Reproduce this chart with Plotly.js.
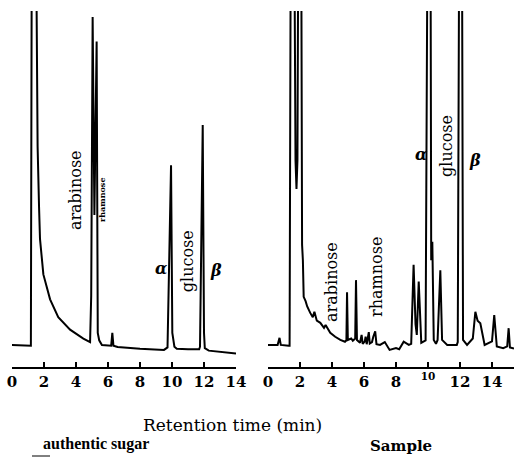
<!DOCTYPE html>
<html>
<head>
<meta charset="utf-8">
<script src="https://cdn.plot.ly/plotly-3.0.1.min.js"></script>
<style>html,body{margin:0;padding:0;background:#fff;}#chart{width:514px;height:457px;}</style>
</head>
<body>
<div id="chart"></div>
<script>
// Retention time (min) and detector response (arbitrary units, 0-100 = full scale)
var authenticTime = [0, 0.6, 1.15, 1.18, 1.3, 1.6, 1.69, 1.75, 1.96, 2.38, 2.89, 3.63, 4.46, 4.88, 4.95, 5.04, 5.15, 5.29, 5.36, 5.45, 5.62, 6.0, 6.2, 6.27, 6.34, 6.6, 8.0, 9.5, 9.72, 9.94, 10.02, 10.15, 10.3, 11.0, 11.7, 11.75, 11.92, 12.0, 12.05, 12.3, 13.0, 14.0];
var authenticSignal = [6.2, 6.1, 6.0, 6.0, 250, 62, 45, 36, 26, 19, 14, 10.5, 8, 7, 20, 98.3, 42.7, 91.4, 9.6, 7.5, 6.2, 6.0, 6.0, 9.6, 6.0, 5.6, 5.1, 4.8, 5.5, 56.7, 9.6, 5.7, 5.1, 5.0, 5.0, 5.7, 68.0, 9.6, 5.3, 4.6, 4.2, 3.8];

var sampleTime = [0, 0.6, 0.72, 0.8, 1.3, 1.35, 1.5, 1.72, 1.78, 1.84, 2.0, 2.13, 2.18, 2.23, 2.35, 2.45, 2.64, 2.8, 2.9, 3.05, 3.27, 3.5, 3.6, 3.89, 4.2, 4.52, 4.81, 4.9, 4.94, 4.99, 5.2, 5.3, 5.45, 5.5, 5.56, 5.75, 5.85, 5.92, 6.05, 6.1, 6.17, 6.3, 6.36, 6.5, 6.58, 6.7, 6.78, 7.0, 7.3, 7.6, 8.0, 8.2, 8.48, 8.8, 8.95, 9.1, 9.22, 9.3, 9.42, 9.58, 9.85, 10.1, 10.2, 10.27, 10.36, 10.5, 10.6, 10.77, 10.88, 11.2, 11.8, 11.86, 12.05, 12.19, 12.44, 12.8, 12.96, 13.1, 13.27, 13.54, 14.0, 14.14, 14.3, 14.7, 14.95, 15.04, 15.12, 15.375];
var sampleSignal = [6.2, 6.2, 8.2, 6.2, 6.0, 6.0, 250, 58, 50, 58, 250, 34.3, 30, 19.7, 18.5, 17, 15.2, 14, 15.5, 13, 12.4, 11, 11.8, 9.6, 8.5, 7.6, 7.1, 7.5, 21, 7.6, 8.0, 7.4, 8.0, 24.4, 7.6, 6.8, 9.0, 6.5, 7.2, 8.5, 6.4, 9.8, 6.6, 7.0, 8.5, 10.0, 6.4, 6.2, 7.0, 4.8, 5.3, 5.0, 7.1, 6.2, 6.5, 28.7, 12, 9, 24, 6.8, 7.5, 250, 30, 35.2, 7.6, 6.5, 7.6, 27.2, 7.6, 6.2, 6.2, 7.0, 250, 7.6, 6.2, 8.0, 15.5, 13, 12.3, 6.2, 7.2, 14.6, 5.8, 5.3, 5.8, 10.9, 5.5, 5.2];

var tickValues = [0, 2, 4, 6, 8, 10, 12, 14];
var leftTickText = ['0', '2', '4', '6', '8', '10', '12', '14'];
var rightTickText = ['0', '2', '4', '6', '8', '<sup>10</sup>', '12', '14'];

var serif = 'DejaVu Serif, Liberation Serif, serif';
var timesLike = 'Liberation Serif, DejaVu Serif, serif';

var traces = [
  {x: authenticTime, y: authenticSignal, xaxis: 'x', yaxis: 'y', type: 'scatter', mode: 'lines',
   line: {color: '#000', width: 2}, hoverinfo: 'skip'},
  {x: sampleTime, y: sampleSignal, xaxis: 'x2', yaxis: 'y2', type: 'scatter', mode: 'lines',
   line: {color: '#000', width: 2}, hoverinfo: 'skip'}
];

function xAxisCfg(domain, range, ticktext) {
  return {
    domain: domain, range: range, showgrid: false, zeroline: false,
    showline: true, linecolor: '#000', linewidth: 1.6,
    ticks: 'inside', ticklen: 5, tickwidth: 1.5, tickcolor: '#000',
    tickmode: 'array', tickvals: tickValues, ticktext: ticktext,
    tickfont: {family: serif, size: 15, color: '#000', weight: 'bold'},
    fixedrange: true
  };
}
function yAxisCfg(anchor) {
  return {range: [0, 100], visible: false, showgrid: false, zeroline: false, anchor: anchor, fixedrange: true};
}

function lbl(text, xref, yref, x, y, size, angle, extra) {
  var a = {text: text, xref: xref, yref: yref, x: x, y: y, showarrow: false,
    textangle: angle, xanchor: 'center', yanchor: 'middle',
    font: {family: serif, size: size, color: '#000'}};
  if (extra) { for (var k in extra) a.font[k] = extra[k]; }
  return a;
}

var annotations = [
  lbl('arabinose', 'x', 'y', 3.94, 49.7, 16, -90),
  lbl('rhamnose', 'x', 'y', 5.62, 46.9, 8, -90, {weight: 'bold'}),
  lbl('glucose', 'x', 'y', 11.02, 29.8, 16, -90),
  lbl('α', 'x', 'y', 9.31, 27.8, 16, 0, {weight: 'bold', style: 'italic'}),
  lbl('β', 'x', 'y', 12.75, 27.2, 16, 0, {weight: 'bold', style: 'italic'}),
  lbl('arabinose', 'x2', 'y2', 4.0, 23.9, 16, -90),
  lbl('rhamnose', 'x2', 'y2', 6.81, 25.3, 16, -90),
  lbl('α', 'x2', 'y2', 9.56, 59.6, 16, 0, {weight: 'bold', style: 'italic'}),
  lbl('glucose', 'x2', 'y2', 11.19, 62.1, 16, -90),
  lbl('β', 'x2', 'y2', 12.94, 58.1, 16, 0, {weight: 'bold', style: 'italic'}),
  lbl('Retention time (min)', 'paper', 'paper', 232 / 514, -58 / 356, 17, 0),
  lbl('authentic sugar', 'paper', 'paper', 96 / 514, -77 / 356, 16, 0, {family: timesLike, weight: 'bold'}),
  lbl('Sample', 'paper', 'paper', 401 / 514, -79 / 356, 15, 0, {weight: 'bold'})
];

var layout = {
  width: 514, height: 457,
  margin: {l: 0, r: 0, t: 11, b: 90, pad: 0},
  paper_bgcolor: '#fff', plot_bgcolor: '#fff',
  showlegend: false,
  xaxis: xAxisCfg([12 / 514, 236 / 514], [0, 14], leftTickText),
  yaxis: yAxisCfg('x'),
  xaxis2: xAxisCfg([268 / 514, 1], [0, 15.375], rightTickText),
  yaxis2: yAxisCfg('x2'),
  annotations: annotations,
  shapes: [
    {type: 'line', xref: 'paper', yref: 'paper', x0: 32 / 514, x1: 50 / 514,
     y0: -89 / 356, y1: -89 / 356, line: {color: '#000', width: 1}}
  ]
};

Plotly.newPlot('chart', traces, layout, {displayModeBar: false, staticPlot: true});
</script>
</body>
</html>
